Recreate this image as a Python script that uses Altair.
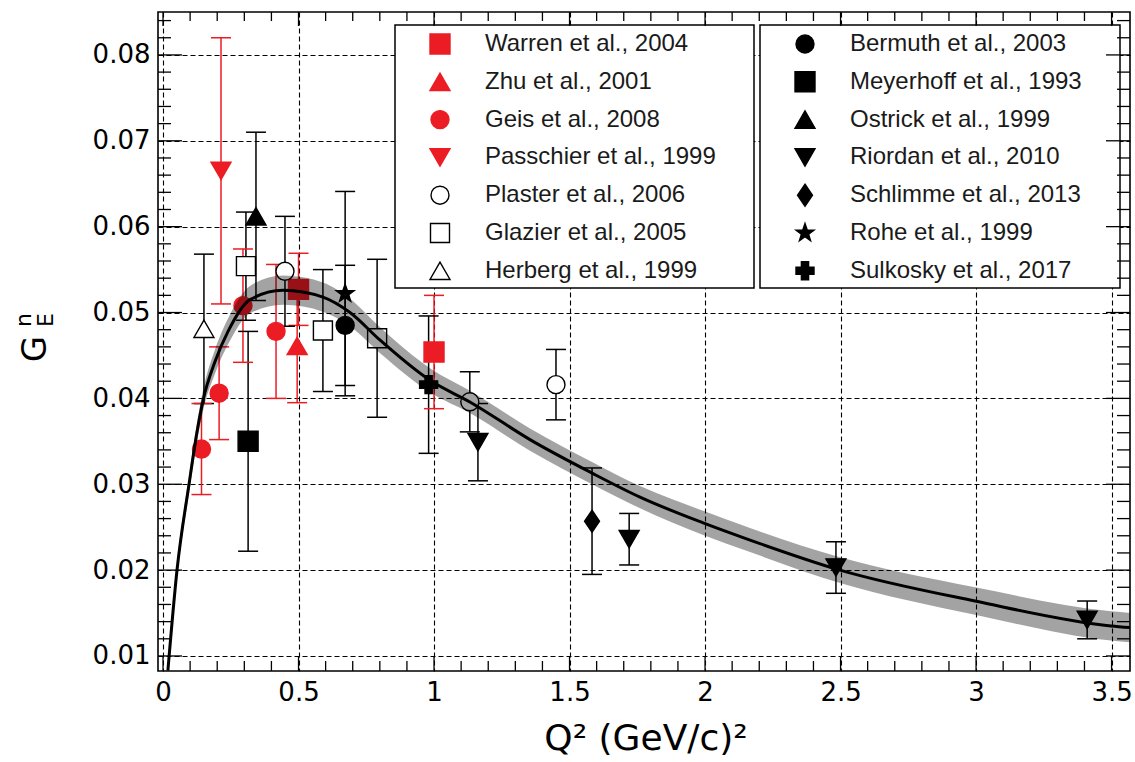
import altair as alt
import pandas as pd

# ---------------- data ----------------
series_names = [
    "Warren et al., 2004", "Zhu et al., 2001", "Geis et al., 2008", "Passchier et al., 1999",
    "Plaster et al., 2006", "Glazier et al., 2005", "Herberg et al., 1999",
    "Bermuth et al., 2003", "Meyerhoff et al., 1993", "Ostrick et al., 1999", "Riordan et al., 2010",
    "Schlimme et al., 2013", "Rohe et al., 1999", "Sulkosky et al., 2017",
]

warren_q2 = [0.50, 1.00]
warren_g = [0.0527, 0.0454]
warren_err = [0.0042, 0.0066]

zhu_q2 = [0.495]
zhu_g = [0.0461]
zhu_err = [0.0066]

geis_q2 = [0.142, 0.207, 0.295, 0.417]
geis_g = [0.0341, 0.0406, 0.0508, 0.0478]
geis_err = [0.0053, 0.0054, 0.0066, 0.0078]

passchier_q2 = [0.214]
passchier_g = [0.0665]
passchier_err = [0.0155]

plaster_q2 = [0.450, 1.132, 1.450]
plaster_g = [0.0548, 0.0396, 0.0416]
plaster_err = [0.0064, 0.0035, 0.0041]

glazier_q2 = [0.306, 0.590, 0.790]
glazier_g = [0.0554, 0.0479, 0.0470]
glazier_err = [0.0063, 0.0071, 0.0092]

herberg_q2 = [0.151]
herberg_g = [0.0481]
herberg_err = [0.0087]

bermuth_q2 = [0.672]
bermuth_g = [0.0485]
bermuth_err = [0.0070]

meyerhoff_q2 = [0.314]
meyerhoff_g = [0.0350]
meyerhoff_err = [0.0128]

ostrick_q2 = [0.343]
ostrick_g = [0.0612]
ostrick_err = [0.0098]

riordan_q2 = [1.162, 1.720, 2.483, 3.410]
riordan_g = [0.0349, 0.0236, 0.0203, 0.0142]
riordan_err = [0.0045, 0.0030, 0.0030, 0.0022]

schlimme_q2 = [1.583]
schlimme_g = [0.0257]
schlimme_err = [0.0062]

rohe_q2 = [0.672]
rohe_g = [0.0522]
rohe_err = [0.0119]

sulkosky_q2 = [0.980]
sulkosky_g = [0.0416]
sulkosky_err = [0.0080]

# fit curve and its uncertainty band
curve_q2 = [0.018, 0.052, 0.096, 0.125, 0.148, 0.192, 0.240, 0.321, 0.443, 0.590, 0.690, 0.800,
            0.985, 1.137, 1.354, 1.583, 1.760, 1.993, 2.166, 2.498, 2.996, 3.498, 3.570]
curve_g = [0.0083, 0.0201, 0.0300, 0.0360, 0.0398, 0.0443, 0.0478, 0.0515, 0.0526, 0.0518,
           0.0500, 0.0468, 0.0421, 0.0395, 0.0352, 0.0313, 0.0285, 0.0255, 0.0235, 0.0200,
           0.0164, 0.0135, 0.0133]
curve_band = [0.0006, 0.0008, 0.0010, 0.0011, 0.0012, 0.0014, 0.0015, 0.0016, 0.0017, 0.0017,
              0.0016, 0.0015, 0.0014, 0.0013, 0.0013, 0.0013, 0.0013, 0.0014, 0.0014, 0.0015,
              0.0016, 0.0017, 0.0017]

x_major = [0, 0.5, 1, 1.5, 2, 2.5, 3, 3.5]
y_major = [0.01, 0.02, 0.03, 0.04, 0.05, 0.06, 0.07, 0.08]

# ---------------- styles ----------------
RED = "#ec1c24"
BLK = "#000000"
WHT = "#ffffff"
diamond_path = "M0,-1L0.68,0L0,1L-0.68,0Z"
star_path = ("M0,-1L0.235,-0.324L0.951,-0.309L0.380,0.124L0.588,0.809L0,0.4"
             "L-0.588,0.809L-0.380,0.124L-0.951,-0.309L-0.235,-0.324Z")
shapes = ["square", "triangle-up", "circle", "triangle-down", "circle", "square", "triangle-up",
          "circle", "square", "triangle-up", "triangle-down", diamond_path, star_path, "cross"]
fills = [RED, RED, RED, RED, WHT, WHT, WHT, BLK, BLK, BLK, BLK, BLK, BLK, BLK]
strokes = [RED, RED, RED, RED, BLK, BLK, BLK, BLK, BLK, BLK, BLK, BLK, BLK, BLK]
sizes = [400, 400, 324, 400, 324, 361, 400, 324, 400, 400, 400, 484, 361, 324]
size_of = dict(zip(series_names, sizes))

all_q2 = [warren_q2, zhu_q2, geis_q2, passchier_q2, plaster_q2, glazier_q2, herberg_q2,
          bermuth_q2, meyerhoff_q2, ostrick_q2, riordan_q2, schlimme_q2, rohe_q2, sulkosky_q2]
all_g = [warren_g, zhu_g, geis_g, passchier_g, plaster_g, glazier_g, herberg_g,
         bermuth_g, meyerhoff_g, ostrick_g, riordan_g, schlimme_g, rohe_g, sulkosky_g]
all_err = [warren_err, zhu_err, geis_err, passchier_err, plaster_err, glazier_err, herberg_err,
           bermuth_err, meyerhoff_err, ostrick_err, riordan_err, schlimme_err, rohe_err, sulkosky_err]

rows = []
for name, xs, ys, es in zip(series_names, all_q2, all_g, all_err):
    for xv, yv, ev in zip(xs, ys, es):
        rows.append(dict(series=name, q2=xv, g=yv, lo=yv - ev, hi=yv + ev, sz=size_of[name]))
df = pd.DataFrame(rows)

curve_df = pd.DataFrame({"q2": curve_q2, "g": curve_g})
curve_df["lo"] = [g - b for g, b in zip(curve_g, curve_band)]
curve_df["hi"] = [g + b for g, b in zip(curve_g, curve_band)]

leg_df = pd.DataFrame({"series": series_names, "idx": list(range(len(series_names)))})
leg_df["sz"] = [size_of[n] for n in series_names]

W, H = 972, 659
FONT_TICK = "DejaVu Sans"
FONT_TXT = "Liberation Sans"

xscale = alt.Scale(domain=[-0.0185, 3.568], nice=False, zero=False)
yscale = alt.Scale(domain=[0.00825, 0.0850], nice=False, zero=False)

xaxis = alt.Axis(values=x_major, format="~g", title=None, grid=True, ticks=False, tickSize=0,
                 domain=False, labelFont=FONT_TICK, labelFontSize=26, labelColor="black",
                 labelPadding=8, gridColor="black", gridDash=[5, 3], gridWidth=1.1, gridOpacity=1,
                 labelOverlap=False)
yaxis = alt.Axis(values=y_major, format=".2f", title=None, grid=True, ticks=False, tickSize=0,
                 domain=False, labelFont=FONT_TICK, labelFontSize=26, labelColor="black",
                 labelPadding=8, gridColor="black", gridDash=[5, 3], gridWidth=1.1, gridOpacity=1,
                 labelOverlap=False)

enc_shape = alt.Shape("series:N", scale=alt.Scale(domain=series_names, range=shapes), legend=None)
enc_fill = alt.Fill("series:N", scale=alt.Scale(domain=series_names, range=fills), legend=None)
enc_stroke = alt.Stroke("series:N", scale=alt.Scale(domain=series_names, range=strokes), legend=None)

base = alt.Chart(df)

# gridlines/axes carrier
axes_layer = base.mark_point(opacity=0).encode(
    x=alt.X("q2:Q", scale=xscale, axis=xaxis),
    y=alt.Y("g:Q", scale=yscale, axis=yaxis),
)

err_rule = base.mark_rule(strokeWidth=1.5, clip=True).encode(
    x="q2:Q", y="lo:Q", y2="hi:Q", stroke=enc_stroke)
cap_lo = base.mark_rule(strokeWidth=1.5, xOffset=-10, x2Offset=10, clip=True).encode(
    x="q2:Q", x2="q2:Q", y="lo:Q", stroke=enc_stroke)
cap_hi = base.mark_rule(strokeWidth=1.5, xOffset=-10, x2Offset=10, clip=True).encode(
    x="q2:Q", x2="q2:Q", y="hi:Q", stroke=enc_stroke)

points = base.mark_point(filled=True, opacity=1, fillOpacity=1, strokeWidth=1.4, clip=True).encode(
    x="q2:Q", y="g:Q", shape=enc_shape, fill=enc_fill, stroke=enc_stroke,
    size=alt.Size("sz:Q", scale=None, legend=None))

band = alt.Chart(curve_df).mark_area(color="black", opacity=0.36, interpolate="monotone", clip=True).encode(
    x="q2:Q", y="lo:Q", y2="hi:Q")
line = alt.Chart(curve_df).mark_line(color="black", strokeWidth=3, interpolate="monotone", clip=True).encode(
    x="q2:Q", y="g:Q")

one = pd.DataFrame({"a": [0]})
box_l = alt.Chart(one).mark_rect(fill="white", stroke="black", strokeWidth=1.5).encode(
    x=alt.value(237), x2=alt.value(596), y=alt.value(13), y2=alt.value(276))
box_r = alt.Chart(one).mark_rect(fill="white", stroke="black", strokeWidth=1.5).encode(
    x=alt.value(602), x2=alt.value(962), y=alt.value(13), y2=alt.value(276))

leg_base = alt.Chart(leg_df).transform_calculate(
    col="floor(datum.idx / 7)", row="datum.idx % 7"
).transform_calculate(
    sx="282 + datum.col * 365", tx="327 + datum.col * 365", ly="32 + datum.row * 37.8"
)
leg_pts = leg_base.mark_point(filled=True, opacity=1, fillOpacity=1, strokeWidth=1.4).encode(
    x=alt.X("sx:Q", scale=None, axis=None), y=alt.Y("ly:Q", scale=None, axis=None),
    shape=enc_shape, fill=enc_fill, stroke=enc_stroke,
    size=alt.Size("sz:Q", scale=None, legend=None))
leg_txt = leg_base.mark_text(align="left", baseline="middle", font=FONT_TXT, fontSize=24,
                             color="#1a1a1a").encode(
    x=alt.X("tx:Q", scale=None, axis=None), y=alt.Y("ly:Q", scale=None, axis=None),
    text="series:N")

# inward ticks on all four sides
x_minor = [round(0.1 * i, 1) for i in range(36) if i % 5 != 0]
y_minor = [round(0.002 * i, 3) for i in range(5, 43) if i % 5 != 0]
xM = pd.DataFrame({"v": x_major})
xm = pd.DataFrame({"v": x_minor})
yM = pd.DataFrame({"v": y_major})
ym = pd.DataFrame({"v": y_minor})
tk = dict(color="black", strokeWidth=1.3)
ticks = [
    alt.Chart(xM).mark_rule(**tk).encode(x="v:Q", y=alt.value(H - 14), y2=alt.value(H)),
    alt.Chart(xM).mark_rule(**tk).encode(x="v:Q", y=alt.value(0), y2=alt.value(14)),
    alt.Chart(xm).mark_rule(**tk).encode(x="v:Q", y=alt.value(H - 10), y2=alt.value(H)),
    alt.Chart(xm).mark_rule(**tk).encode(x="v:Q", y=alt.value(0), y2=alt.value(9)),
    alt.Chart(yM).mark_rule(**tk).encode(y="v:Q", x=alt.value(0), x2=alt.value(24)),
    alt.Chart(yM).mark_rule(**tk).encode(y="v:Q", x=alt.value(W - 24), x2=alt.value(W)),
    alt.Chart(ym).mark_rule(**tk).encode(y="v:Q", x=alt.value(0), x2=alt.value(13)),
    alt.Chart(ym).mark_rule(**tk).encode(y="v:Q", x=alt.value(W - 13), x2=alt.value(W)),
]

frame = alt.Chart(one).mark_rect(fillOpacity=0, stroke="black", strokeWidth=1.6).encode(
    x=alt.value(0), x2=alt.value(W), y=alt.value(0), y2=alt.value(H))

xtitle = alt.Chart(one).mark_text(text="Q² (GeV/c)²", font=FONT_TICK, fontSize=36, align="center",
                                  baseline="alphabetic", color="black").encode(
    x=alt.value(488), y=alt.value(738))
ytitle_g = alt.Chart(one).mark_text(text="G", font=FONT_TICK, fontSize=34, angle=270, align="center",
                                    baseline="middle", color="black").encode(
    x=alt.value(-122), y=alt.value(337))
ytitle_n = alt.Chart(one).mark_text(text="n", font=FONT_TICK, fontSize=22, angle=270, align="center",
                                    baseline="middle", color="black").encode(
    x=alt.value(-134), y=alt.value(308))
ytitle_e = alt.Chart(one).mark_text(text="E", font=FONT_TICK, fontSize=22, angle=270, align="center",
                                    baseline="middle", color="black").encode(
    x=alt.value(-112), y=alt.value(308))

chart = alt.layer(
    axes_layer, err_rule, cap_lo, cap_hi, points, band, line,
    box_l, box_r, leg_pts, leg_txt, *ticks, frame, xtitle, ytitle_g, ytitle_n, ytitle_e,
).properties(
    width=W, height=H,
    padding={"left": 158, "top": 12, "right": 5, "bottom": 91},
    autosize=alt.AutoSizeParams(type="none"),
).configure_view(strokeWidth=0)

chart.save("out.html", embed_options={"renderer": "svg", "actions": False})
